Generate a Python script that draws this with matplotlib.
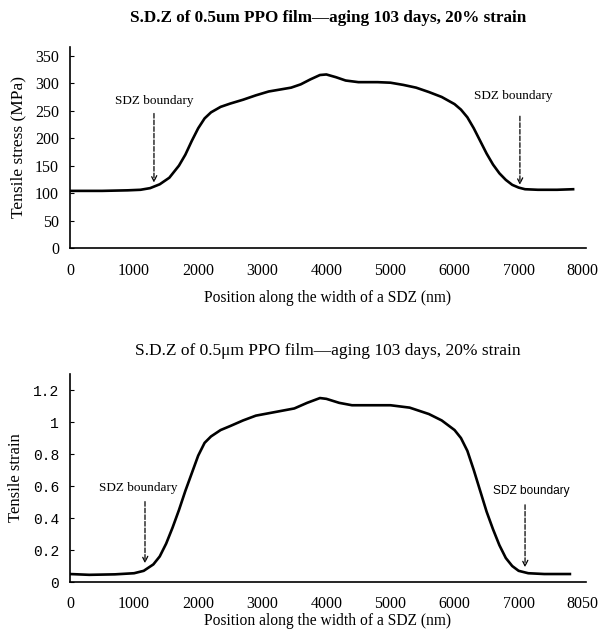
import matplotlib.pyplot as plt

# -----------------------------
# Data
# -----------------------------
pos_stress = [0, 500, 900, 1100, 1250, 1400, 1550, 1700, 1800, 1900, 2000,
              2100, 2200, 2350, 2500, 2700, 2900, 3100, 3300, 3450, 3600,
              3750, 3900, 4000, 4150, 4300, 4500, 4800, 5000, 5200, 5400,
              5600, 5800, 6000, 6100, 6200, 6300, 6400, 6500, 6600, 6700,
              6800, 6900, 7000, 7100, 7300, 7600, 7850]
stress = [104, 104, 105, 106, 109, 116, 128, 150, 170, 195, 218,
          236, 247, 257, 263, 270, 278, 285, 289, 292, 298,
          307, 315, 316, 311, 305, 302, 302, 301, 297, 292,
          284, 275, 262, 252, 238, 218, 195, 172, 152, 136,
          124, 115, 110, 107, 106, 106, 107]

pos_strain = [0, 300, 700, 1000, 1150, 1300, 1400, 1500, 1600, 1700, 1800,
              1900, 2000, 2100, 2200, 2350, 2500, 2700, 2900, 3100, 3300,
              3500, 3700, 3900, 4000, 4200, 4400, 4700, 5000, 5300, 5600,
              5800, 6000, 6100, 6200, 6300, 6400, 6500, 6600, 6700, 6800,
              6900, 7000, 7150, 7400, 7800]
strain = [0.05, 0.045, 0.048, 0.055, 0.07, 0.11, 0.16, 0.24, 0.34, 0.45, 0.57,
          0.68, 0.79, 0.87, 0.91, 0.95, 0.975, 1.01, 1.04, 1.055, 1.07,
          1.085, 1.12, 1.15, 1.145, 1.12, 1.105, 1.105, 1.105, 1.09, 1.05,
          1.01, 0.95, 0.90, 0.82, 0.70, 0.57, 0.44, 0.33, 0.23, 0.15,
          0.10, 0.07, 0.055, 0.05, 0.05]

xticks = [0, 1000, 2000, 3000, 4000, 5000, 6000, 7000, 8000]
xlabels_top = ["0", "1000", "2000", "3000", "4000", "5000", "6000", "7000", "8000"]
xlabels_bot = ["0", "1000", "2000", "3000", "4000", "5000", "6000", "7000", "8050"]
yticks_stress = [0, 50, 100, 150, 200, 250, 300, 350]
yticks_strain = [0, 0.2, 0.4, 0.6, 0.8, 1.0, 1.2]
ylabels_strain = ["0", "0.2", "0.4", "0.6", "0.8", "1", "1.2"]

# boundary annotations: (arrow x, text x, text y, arrow start y, arrow end y)
stress_marks = [(1310, 1310, 268, 250, 114), (7020, 6910, 277, 245, 110)]
strain_marks = [(1170, 1060, 0.59, 0.52, 0.10), (7100, 7200, 0.57, 0.50, 0.075)]

plt.rcParams["font.family"] = ["Liberation Serif", "DejaVu Serif"]

fig = plt.figure(figsize=(6.02, 6.37), dpi=100)
ax1 = fig.add_axes([0.1163, 0.6107, 0.857, 0.3155])
ax2 = fig.add_axes([0.1163, 0.0863, 0.857, 0.3265])


def style(ax, xpad):
    for s in ["top", "right"]:
        ax.spines[s].set_visible(False)
    ax.spines["left"].set_linewidth(1.2)
    ax.spines["bottom"].set_linewidth(1.2)
    ax.tick_params(axis="y", direction="in", length=3, labelsize=11.5, pad=8)
    ax.tick_params(axis="x", length=0, labelsize=11.5, pad=xpad)
    ax.set_xlim(0, 8050)


# -----------------------------
# Top: stress
# -----------------------------
ax1.plot(pos_stress, stress, color="black", linewidth=1.9)
style(ax1, 11)
ax1.set_ylim(0, 366)
ax1.set_yticks(yticks_stress)
ax1.set_xticks(xticks)
ax1.set_xticklabels(xlabels_top)
ax1.set_ylabel("Tensile stress (MPa)", fontsize=12.5, labelpad=6)
ax1.set_xlabel("Position along the width of a SDZ (nm)", fontsize=11.2, labelpad=8)
ax1.set_title("S.D.Z of 0.5um PPO film—aging 103 days, 20% strain",
              fontsize=12.3, fontweight="bold", pad=18)
for ax_x, tx, ty, y0, y1 in stress_marks:
    ax1.text(tx, ty, "SDZ boundary", ha="center", va="center", fontsize=9.5)
    ax1.annotate("", xy=(ax_x, y1), xytext=(ax_x, y0),
                 arrowprops=dict(arrowstyle="->", linestyle="--", color="black",
                                 linewidth=0.9))

# -----------------------------
# Bottom: strain
# -----------------------------
ax2.plot(pos_strain, strain, color="black", linewidth=1.9)
style(ax2, 10)
ax2.set_ylim(0, 1.3)
ax2.set_yticks(yticks_strain)
ax2.set_yticklabels(ylabels_strain, family=["Liberation Mono", "DejaVu Sans Mono"],
                    fontsize=10.5)
ax2.set_xticks(xticks)
ax2.set_xticklabels(xlabels_bot)
ax2.set_ylabel("Tensile strain", fontsize=12, labelpad=6)
ax2.set_xlabel("Position along the width of a SDZ (nm)", fontsize=11.2, labelpad=1)
ax2.set_title("S.D.Z of 0.5μm PPO film—aging 103 days, 20% strain",
              fontsize=12.5, pad=14)
for ax_x, tx, ty, y0, y1 in strain_marks:
    fam = ["Liberation Serif"] if tx < 4000 else ["Liberation Sans", "DejaVu Sans"]
    ax2.text(tx, ty, "SDZ boundary", ha="center", va="center",
             fontsize=9.5 if tx < 4000 else 8.6, family=fam)
    ax2.annotate("", xy=(ax_x, y1), xytext=(ax_x, y0),
                 arrowprops=dict(arrowstyle="->", linestyle="--", color="black",
                                 linewidth=0.9))

fig.savefig("out.png", dpi=100)
